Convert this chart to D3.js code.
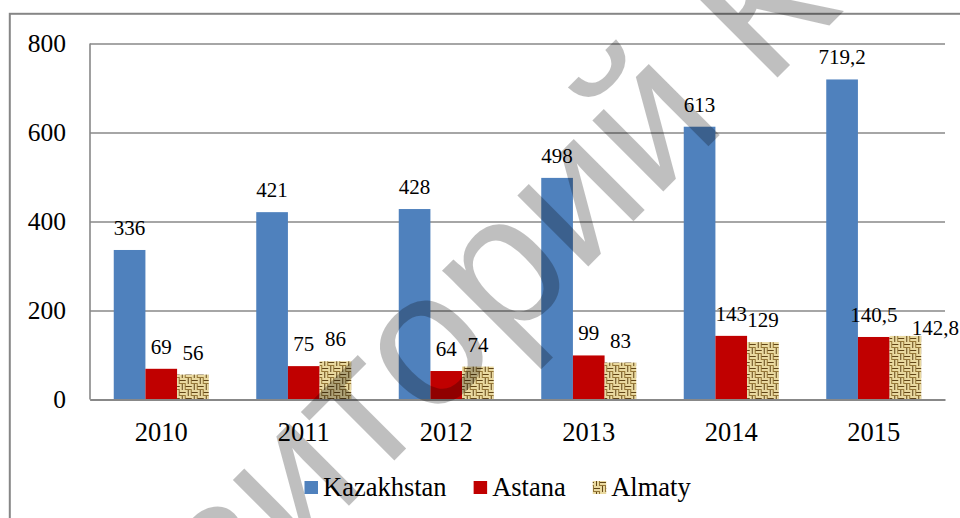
<!DOCTYPE html>
<html><head><meta charset="utf-8">
<script src="https://cdn.jsdelivr.net/npm/d3@7"></script>
<style>body{margin:0;background:#fff;overflow:hidden} svg{display:block}</style>
</head><body>
<svg id="chart" width="960" height="518"></svg>
<script>
const years = ["2010", "2011", "2012", "2013", "2014", "2015"];
const seriesNames = ["Kazakhstan", "Astana", "Almaty"];
const kazakhstan = [336, 421, 428, 498, 613, 719.2];
const astana = [69, 75, 64, 99, 143, 140.5];
const almaty = [56, 86, 74, 83, 129, 142.8];
const yTicks = [0, 200, 400, 600, 800];
const watermarkText = "Репозиторий КарГУ";

const seriesValues = [kazakhstan, astana, almaty];
const seriesFills = ["#4F81BD", "#C00000", "url(#burlap)"];

const svg = d3.select("#chart");
const serif = "'Liberation Serif','Times New Roman',serif";

// burlap pattern
const defs = svg.append("defs");
const pat = defs.append("pattern").attr("id", "burlap").attr("patternUnits", "userSpaceOnUse")
  .attr("width", 12).attr("height", 12);
pat.append("rect").attr("width", 12).attr("height", 12).attr("fill", "#c2a566");
const light = "#e9d9a0", dark = "#614517", mid = "#957636";
[[0,0],[6,6]].forEach(([ox,oy]) => {
  pat.append("rect").attr("x", ox).attr("y", oy).attr("width", 6).attr("height", 2).attr("fill", light);
  pat.append("rect").attr("x", ox).attr("y", oy+2).attr("width", 6).attr("height", 1).attr("fill", dark);
  pat.append("rect").attr("x", ox).attr("y", oy+3).attr("width", 6).attr("height", 2).attr("fill", light);
  pat.append("rect").attr("x", ox).attr("y", oy+5).attr("width", 6).attr("height", 1).attr("fill", mid);
});
[[6,0],[0,6]].forEach(([ox,oy]) => {
  pat.append("rect").attr("x", ox).attr("y", oy).attr("width", 2).attr("height", 6).attr("fill", light);
  pat.append("rect").attr("x", ox+2).attr("y", oy).attr("width", 1).attr("height", 6).attr("fill", dark);
  pat.append("rect").attr("x", ox+3).attr("y", oy).attr("width", 2).attr("height", 6).attr("fill", light);
  pat.append("rect").attr("x", ox+5).attr("y", oy).attr("width", 1).attr("height", 6).attr("fill", mid);
});

// outer border
svg.append("rect").attr("x", 9.8).attr("y", 13.8).attr("width", 1000).attr("height", 600)
  .attr("fill", "none").attr("stroke", "#868686").attr("stroke-width", 2);

const pLeft = 90, pRight = 945, pTop = 43.5, pBottom = 399.5;
const x0 = d3.scaleBand().domain(years).range([pLeft, pRight]).paddingInner(1/3).paddingOuter(1/6);
const x1 = d3.scaleBand().domain(seriesNames).range([0, x0.bandwidth()]);
const y = d3.scaleLinear().domain([0, 800]).range([pBottom, pTop]);

// gridlines
const grid = svg.append("g").attr("transform", `translate(${pLeft},0)`)
  .call(d3.axisLeft(y).tickValues(yTicks).tickSize(-(pRight - pLeft)).tickFormat(""));
grid.select(".domain").remove();
grid.selectAll("line").attr("stroke", "#888").attr("stroke-width", 1.6);

// y axis line + labels
svg.append("line").attr("x1", pLeft).attr("x2", pLeft).attr("y1", pTop).attr("y2", pBottom)
  .attr("stroke", "#888").attr("stroke-width", 1.6);
const ya = svg.append("g").attr("transform", `translate(${pLeft},0)`)
  .call(d3.axisLeft(y).tickValues(yTicks).tickSize(0).tickPadding(24).tickFormat(d3.format("d")));
ya.select(".domain").remove();
ya.selectAll("text").attr("font-family", serif).attr("font-size", 25.5).attr("fill", "#000");

// bars
const groups = svg.append("g").selectAll("g").data(years).join("g")
  .attr("transform", d => `translate(${x0(d)},0)`);
groups.selectAll("rect").data((d, i) => seriesNames.map((s, k) => ({s, k, v: seriesValues[k][i], year: d})))
  .join("rect")
  .attr("x", d => x1(d.s)).attr("width", x1.bandwidth())
  .attr("y", d => y(d.v)).attr("height", d => y(0) - y(d.v))
  .attr("fill", d => seriesFills[d.k]);

// x axis
const xa = svg.append("g").attr("transform", `translate(0,${pBottom})`)
  .call(d3.axisBottom(x0).tickSize(0).tickPadding(23));
xa.select(".domain").attr("stroke", "#888").attr("stroke-width", 2);
xa.selectAll("text").attr("font-family", serif).attr("font-size", 26.5).attr("fill", "#000");

// data labels
const fmt = v => String(v).replace(".", ",");
const nudge = (d) => (d.s === "Almaty" && d.year === "2015") ? {dx: 30, dy: 14} : {dx: 0, dy: 0};
groups.selectAll("text.lbl").data((d, i) => seriesNames.map((s, k) => ({s, k, v: seriesValues[k][i], year: d})))
  .join("text").attr("class", "lbl")
  .attr("x", d => x1(d.s) + x1.bandwidth() / 2 + nudge(d).dx)
  .attr("y", d => y(d.v) - 15 + nudge(d).dy)
  .attr("text-anchor", "middle")
  .attr("font-family", serif).attr("font-size", 21).attr("fill", "#000")
  .text(d => fmt(d.v));

// legend
const legend = svg.append("g");
let lx = 304.5;
seriesNames.forEach((s, k) => {
  legend.append("rect").attr("x", lx).attr("y", 481).attr("width", 13.5).attr("height", 13)
    .attr("fill", seriesFills[k]);
  const t = legend.append("text").attr("x", lx + 18.5).attr("y", 495.5)
    .attr("font-family", serif).attr("font-size", 26.5).attr("fill", "#000").text(s);
  lx += 18.5 + t.node().getComputedTextLength() + 27;
});

// watermark
const wmSize = 190;
const wm = svg.append("text")
  .attr("font-family", "'Liberation Sans',Arial,sans-serif").attr("font-size", wmSize)
  .attr("fill", "#000").attr("fill-opacity", 0.25)
  .text(watermarkText);
const oIdx = 7;
const off = wm.node().getSubStringLength(0, oIdx) + wm.node().getSubStringLength(oIdx, 1) / 2;
wm.attr("transform", `translate(432,353) rotate(-45) translate(${-off},${0.26 * wmSize})`);
</script>
</body></html>
